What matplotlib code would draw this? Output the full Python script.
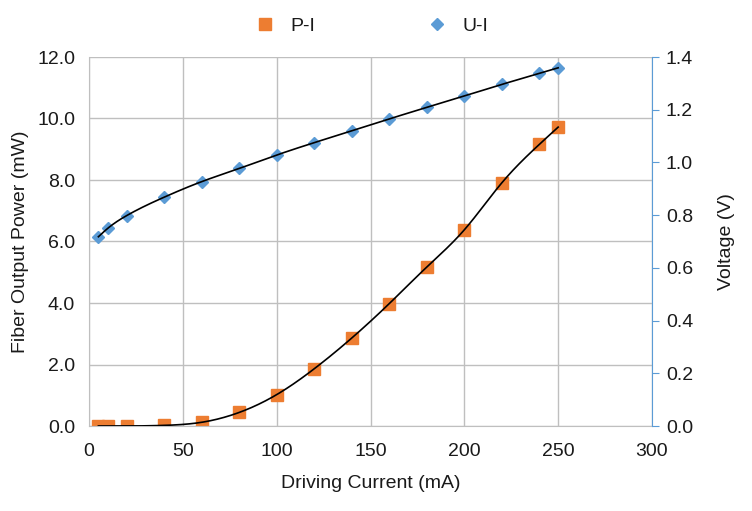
import numpy as np
import matplotlib
matplotlib.use("Agg")
import matplotlib.pyplot as plt
from matplotlib.lines import Line2D
from matplotlib.ticker import FormatStrFormatter

plt.rcParams['font.family'] = ['Liberation Sans', 'DejaVu Sans']

current = [5, 10, 20, 40, 60, 80, 100, 120, 140, 160, 180, 200, 220, 240, 250]
power = [0.0, 0.0, 0.0, 0.02, 0.12, 0.44, 1.02, 1.86, 2.86, 3.98, 5.17, 6.38, 7.91, 9.16, 9.72]
voltage = [0.718, 0.750, 0.798, 0.868, 0.927, 0.977, 1.028, 1.075, 1.120, 1.165,
           1.209, 1.252, 1.296, 1.338, 1.359]

orange = '#ED7D31'
blue = '#5B9BD5'
grid_c = '#BFBFBF'
txt = '#1A1A1A'
fs = 14


def smooth(x, y, n=400):
    # natural cubic spline through the measured points
    x = np.asarray(x, float)
    y = np.asarray(y, float)
    h = np.diff(x)
    k = len(x)
    A = np.zeros((k, k))
    b = np.zeros(k)
    A[0, 0] = A[-1, -1] = 1
    for i in range(1, k - 1):
        A[i, i - 1] = h[i - 1]
        A[i, i] = 2 * (h[i - 1] + h[i])
        A[i, i + 1] = h[i]
        b[i] = 6 * ((y[i + 1] - y[i]) / h[i] - (y[i] - y[i - 1]) / h[i - 1])
    M = np.linalg.solve(A, b)
    xs = np.linspace(x[0], x[-1], n)
    j = np.clip(np.searchsorted(x, xs) - 1, 0, k - 2)
    dx1 = x[j + 1] - xs
    dx0 = xs - x[j]
    hj = h[j]
    ys = (M[j] * dx1 ** 3 / (6 * hj) + M[j + 1] * dx0 ** 3 / (6 * hj)
          + (y[j] / hj - M[j] * hj / 6) * dx1 + (y[j + 1] / hj - M[j + 1] * hj / 6) * dx0)
    return xs, ys


fig = plt.figure(figsize=(7.52, 5.11), dpi=100)
ax = fig.add_axes([89 / 752, 85 / 511, 563 / 752, 369 / 511])
ax2 = ax.twinx()

sx, sy = smooth(current, power)
ax.plot(sx, sy, color='black', lw=1.2, zorder=3)
ax.plot(current, power, ls='none', marker='s', ms=8, color=orange, zorder=2)

vx, vy = smooth(current, voltage)
ax2.plot(vx, vy, color='black', lw=1.2, zorder=3)
ax2.plot(current, voltage, ls='none', marker='D', ms=6, color=blue, zorder=2)

ax.set_xlim(0, 300)
ax.set_ylim(0, 12)
ax2.set_ylim(0, 1.4)
ax.set_xticks(np.arange(0, 301, 50))
ax.set_yticks(np.arange(0, 12.1, 2))
ax2.set_yticks(np.arange(0, 1.41, 0.2))
ax.yaxis.set_major_formatter(FormatStrFormatter('%.1f'))
ax2.yaxis.set_major_formatter(FormatStrFormatter('%.1f'))

ax.grid(True, color=grid_c, lw=1)
ax.set_axisbelow(True)
for s in ['top', 'right']:
    ax.spines[s].set_visible(False)
ax.spines['left'].set_color(grid_c)
ax.spines['bottom'].set_color(grid_c)
for s in ['top', 'left', 'bottom']:
    ax2.spines[s].set_visible(False)
ax2.spines['right'].set_color(blue)

ax.tick_params(axis='x', length=0, labelsize=fs, colors=txt, pad=12)
ax.tick_params(axis='y', length=0, labelsize=fs, colors=txt, pad=10)
ax2.tick_params(axis='y', length=5, color=blue, labelsize=fs, labelcolor=txt, pad=5)

ax.set_xlabel('Driving Current (mA)', fontsize=fs, color=txt, labelpad=11)
ax.set_ylabel('Fiber Output Power (mW)', fontsize=fs, color=txt, labelpad=6)
ax2.set_ylabel('Voltage (V)', fontsize=fs, color=txt, labelpad=18)

handles = [Line2D([], [], ls='none', marker='s', ms=8, color=orange),
           Line2D([], [], ls='none', marker='D', ms=6, color=blue)]
fig.legend(handles, ['P-I', 'U-I'], loc='center', bbox_to_anchor=(367 / 752, 1 - 26 / 511),
           ncol=2, frameon=False, fontsize=fs, columnspacing=5.3, handletextpad=0.3,
           labelcolor=txt)

fig.savefig('out.png', dpi=100)
